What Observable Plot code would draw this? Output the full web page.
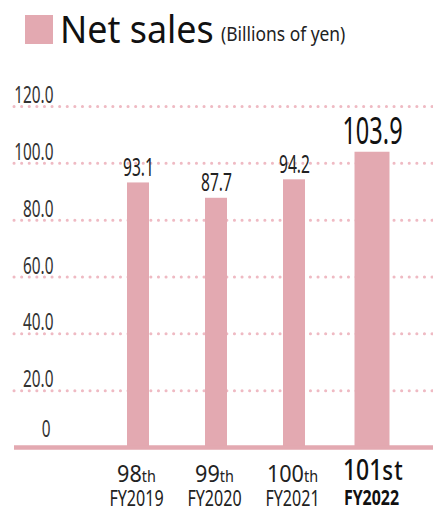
<!DOCTYPE html>
<html>
<head>
<meta charset="utf-8">
<script src="https://cdn.jsdelivr.net/npm/d3@7"></script>
<script src="https://cdn.jsdelivr.net/npm/@observablehq/plot@0.6"></script>
<style>
  html, body { margin: 0; padding: 0; background: #fff; }
  #wrap { position: relative; width: 433px; height: 514px; overflow: hidden; font-family: "Noto Sans", "Open Sans", sans-serif; }
  #head { position: relative; height: 60px; }
  #swatch { position: absolute; left: 25px; top: 15px; width: 28px; height: 29px; background: #e3a9b1; }
  #title { position: absolute; left: 60px; top: 8px; font-size: 39px; line-height: 1; color: #111; transform: scaleX(0.92); transform-origin: left top; white-space: nowrap; }
  #unit { position: absolute; left: 221px; top: 24px; font-size: 20px; line-height: 1; color: #222; transform: scaleX(0.87); transform-origin: left top; white-space: nowrap; }
  svg { display: block; }
</style>
</head>
<body>
<div id="wrap">
  <div id="head">
    <div id="swatch"></div>
    <div id="title">Net sales</div>
    <div id="unit">(Billions of yen)</div>
  </div>
  <div id="chart"></div>
</div>
<script>
const periods = ["98th", "99th", "100th", "101st"];
const fiscalYears = ["FY2019", "FY2020", "FY2021", "FY2022"];
const netSales = [93.1, 87.7, 94.2, 103.9];
const yTicks = [0, 20, 40, 60, 80, 100, 120];

const rows = periods.map((p, i) => ({
  period: p, fy: fiscalYears[i], value: netSales[i], label: netSales[i].toFixed(1)
}));
const past = rows.slice(0, 3);
const latest = rows.slice(3);

const pink = "#e3a9b1";
const font = "Noto Sans, Open Sans, sans-serif";

// text marks in render order, with their horizontal squeeze factor
const textSpecs = [
  ["yticks", 0.64], ["yticks0", 0.64], ["values", 0.6], ["valuesBig", 0.62],
  ["xl1", 0.9], ["xl1big", 0.82], ["xl2", 0.73], ["xl2big", 0.76]
];

const chart = Plot.plot({
  width: 433,
  height: 454,
  marginLeft: 14,
  marginRight: 0,
  marginTop: 46,
  marginBottom: 67,
  style: { fontFamily: font, background: "transparent", overflow: "visible" },
  x: { domain: periods, range: [98, 412], padding: 0, axis: null },
  y: { domain: [0, 120], axis: null },
  marks: [
    Plot.ruleY(yTicks.filter(d => d > 0), {
      stroke: "#efbac3", strokeWidth: 3, strokeDasharray: "0.1 7.5", strokeLinecap: "round"
    }),
    Plot.barY(past, { x: "period", y: "value", fill: pink, insetLeft: 28, insetRight: 28 }),
    Plot.barY(latest, { x: "period", y: "value", fill: pink, insetLeft: 21.5, insetRight: 21.5 }),
    Plot.ruleY([0], { stroke: pink, strokeWidth: 4.5 }),
    Plot.text(yTicks.filter(d => d > 0), {
      y: d => d, frameAnchor: "left", dx: 39, dy: -3.5, textAnchor: "end", lineAnchor: "bottom",
      text: d => d.toFixed(1), fontSize: 24, fill: "#333"
    }),
    Plot.text([0], {
      y: d => d, frameAnchor: "left", dx: 36, dy: -11, textAnchor: "end", lineAnchor: "bottom",
      text: d => String(d), fontSize: 24, fill: "#333"
    }),
    Plot.text(past, {
      x: "period", y: "value", text: "label", dy: -7, lineAnchor: "bottom",
      fontSize: 26, fill: "#222"
    }),
    Plot.text(latest, {
      x: "period", y: "value", text: "label", dy: -8, lineAnchor: "bottom",
      fontSize: 38, fill: "#111"
    }),
    Plot.text(past, {
      x: "period", text: "period", frameAnchor: "bottom", dx: -2, dy: 34, lineAnchor: "bottom",
      fontSize: 24, fill: "#222"
    }),
    Plot.text(latest, {
      x: "period", text: "period", frameAnchor: "bottom", dx: 1, dy: 32, lineAnchor: "bottom",
      fontSize: 28, fill: "#111", fontWeight: 500
    }),
    Plot.text(past, {
      x: "period", text: "fy", frameAnchor: "bottom", dx: -2, dy: 58, lineAnchor: "bottom",
      fontSize: 22, fill: "#222"
    }),
    Plot.text(latest, {
      x: "period", text: "fy", frameAnchor: "bottom", dx: -1, dy: 57, lineAnchor: "bottom",
      fontSize: 21, fill: "#111", fontWeight: "bold"
    })
  ]
});

document.getElementById("chart").appendChild(chart);

const SVGNS = "http://www.w3.org/2000/svg";
const textGroups = Array.from(chart.children).filter(g => g.tagName === "g" && g.querySelector("text"));
const groupByName = {};
textSpecs.forEach(([name], i) => { groupByName[name] = textGroups[i]; });

function splitSuffix(name, suffixSize, spacing) {
  const g = groupByName[name];
  if (!g) return;
  g.querySelectorAll("text").forEach(t => {
    const m = t.textContent.match(/^(\d+)(\D+)$/);
    if (!m) return;
    t.textContent = "";
    const a = document.createElementNS(SVGNS, "tspan");
    a.textContent = m[1];
    const b = document.createElementNS(SVGNS, "tspan");
    b.textContent = m[2];
    b.setAttribute("font-size", suffixSize);
    if (spacing) b.setAttribute("letter-spacing", spacing);
    t.appendChild(a);
    t.appendChild(b);
  });
}
splitSuffix("xl1", 16, 0);
splitSuffix("xl1big", 27, 1.5);

function squeeze(name, s) {
  const g = groupByName[name];
  if (!g) return;
  g.querySelectorAll("text").forEach(t => {
    const tr = t.getAttribute("transform") || "";
    const x = +(t.getAttribute("x") || 0);
    const y = +(t.getAttribute("y") || 0);
    t.removeAttribute("x");
    t.removeAttribute("y");
    t.setAttribute("transform", `${tr} translate(${x},${y}) scale(${s},1)`);
  });
}
textSpecs.forEach(([name, s]) => squeeze(name, s));
</script>
</body>
</html>
